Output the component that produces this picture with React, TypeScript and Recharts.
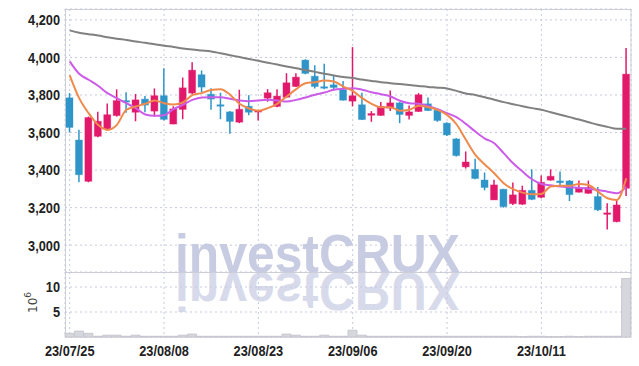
import React from 'react';
import { ComposedChart, Bar, Line, XAxis, YAxis, CartesianGrid } from 'recharts';

const dates = [
  '23/07/25','23/07/26','23/07/27','23/07/28','23/07/31','23/08/01','23/08/02','23/08/03','23/08/04','23/08/07',
  '23/08/08','23/08/09','23/08/10','23/08/11','23/08/14','23/08/16','23/08/17','23/08/18','23/08/21','23/08/22',
  '23/08/23','23/08/24','23/08/25','23/08/28','23/08/29','23/08/30','23/08/31','23/09/01','23/09/04','23/09/05',
  '23/09/06','23/09/07','23/09/08','23/09/11','23/09/12','23/09/13','23/09/14','23/09/15','23/09/18','23/09/19',
  '23/09/20','23/09/21','23/09/22','23/09/25','23/09/26','23/09/27','23/10/04','23/10/05','23/10/06','23/10/10',
  '23/10/11','23/10/12','23/10/13','23/10/16','23/10/17','23/10/18','23/10/19','23/10/20','23/10/23','23/10/24',
];

const opens = [
  3785,3560,3340,3580,3620,3690,3770,3708,3778,3714,
  3796,3645,3723,3810,3908,3804,3748,3710,3655,3740,
  3709,3783,3739,3788,3845,3986,3900,3844,3854,3828,
  3767,3748,3692,3691,3730,3758,3691,3712,3753,3719,
  3650,3566,3417,3404,3347,3241,3298,3221,3218,3292,
  3255,3346,3342,3342,3282,3276,3259,3164,3125,3303,
];
const highs = [
  3810,3615,3685,3710,3755,3830,3815,3805,3795,3835,
  3943,3740,3893,3975,3931,3836,3812,3715,3828,3799,
  3720,3831,3831,3916,3916,3990,3959,3966,3906,3875,
  4055,3812,3714,3762,3824,3762,3744,3810,3787,3724,
  3655,3570,3499,3460,3387,3348,3300,3334,3317,3404,
  3371,3404,3392,3347,3344,3344,3310,3223,3241,4050,
];
const lows = [
  3600,3335,3335,3575,3615,3685,3705,3660,3708,3685,
  3664,3644,3671,3805,3815,3721,3671,3593,3650,3692,
  3664,3764,3735,3785,3843,3910,3835,3831,3831,3770,
  3739,3667,3657,3689,3714,3650,3669,3710,3715,3657,
  3582,3472,3408,3351,3292,3240,3200,3214,3215,3240,
  3250,3344,3312,3235,3280,3274,3182,3084,3122,3262,
];
const closes = [
  3627,3375,3680,3660,3695,3770,3762,3774,3746,3796,
  3670,3726,3838,3932,3842,3778,3744,3659,3724,3708,
  3717,3812,3794,3865,3895,3915,3845,3840,3840,3772,
  3796,3669,3701,3739,3758,3696,3710,3801,3717,3664,
  3587,3477,3443,3355,3307,3321,3205,3268,3292,3244,
  3335,3367,3333,3269,3305,3307,3188,3172,3214,3911,
];

const ma5 = [
  3904,3783,3703,3641,3614,3641,3721,3739,3753,3771,
  3756,3749,3760,3799,3810,3827,3831,3801,3753,3728,
  3716,3730,3753,3792,3831,3863,3868,3877,3872,3845,
  3822,3783,3753,3735,3735,3716,3721,3742,3735,3721,
  3694,3644,3561,3481,3430,3383,3330,3298,3280,3271,
  3273,3312,3316,3316,3326,3321,3285,3250,3241,3356,
];
const ma20 = [
  3979,3913,3881,3849,3810,3783,3756,3730,3696,3689,
  3692,3724,3748,3774,3787,3788,3788,3780,3771,3767,
  3771,3774,3771,3765,3774,3787,3801,3813,3828,3833,
  3836,3828,3815,3804,3792,3769,3756,3753,3742,3724,
  3703,3682,3646,3605,3568,3543,3490,3436,3392,3351,
  3326,3319,3312,3308,3305,3301,3294,3285,3276,3312,
];
const maLong = [
  4144,4131,4124,4117,4108,4100,4093,4085,4078,4070,
  4062,4056,4048,4042,4037,4032,4022,4012,4002,3992,
  3982,3972,3962,3952,3942,3933,3923,3913,3904,3896,
  3890,3882,3875,3868,3863,3858,3853,3848,3843,3839,
  3834,3822,3808,3800,3788,3775,3762,3751,3740,3730,
  3721,3708,3695,3682,3669,3655,3641,3630,3620,3620,
];
// volume in millions of shares
const volumes = [
  0.74,1.18,0.74,0.15,0.37,0.37,0.15,0.37,0.15,0.15,
  0.15,0.15,0.37,0.59,0.15,0.15,0.15,0.15,0.15,0.15,
  0.15,0.15,0.15,0.59,0.37,0.15,0.15,0.37,0.15,0.15,
  1.35,0.37,0.15,0.15,0.15,0.15,0.15,0.15,0.15,0.15,
  0.15,0.15,0.15,0.15,0.15,0.15,0.15,0.15,0.05,0.15,
  0.15,0.05,0.05,0.15,0.05,0.15,0.15,0.15,0.15,11.7,
];

const tickDates = ['23/07/25','23/08/08','23/08/23','23/09/06','23/09/20','23/10/11'];
const priceTicks = [3000,3200,3400,3600,3800,4000,4200];
const volumeTicks = [5,10];

const UP = '#e2196b';
const DOWN = '#2f95c8';
const FONT = '"Liberation Sans", Arial, sans-serif';

const data = dates.map((d, i) => ({
  date: d,
  open: opens[i],
  high: highs[i],
  low: lows[i],
  close: closes[i],
  range: [lows[i], highs[i]],
  ma5: ma5[i],
  ma20: ma20[i],
  maLong: maLong[i],
  vol: volumes[i],
}));

const Candle = (props: any) => {
  let { x, y, width, height, payload } = props;
  if (height < 0) { y = y + height; height = -height; }
  const { open, close, high, low } = payload;
  const color = close >= open ? UP : DOWN;
  const k = height / (high - low);
  const yo = y + (high - open) * k;
  const yc = y + (high - close) * k;
  const top = Math.min(yo, yc);
  const bh = Math.max(1.5, Math.abs(yo - yc));
  const cx = x + width / 2;
  return (
    <g>
      <line x1={cx} x2={cx} y1={y} y2={y + height} stroke={color} strokeWidth={1.5} />
      <rect x={x} y={top} width={width} height={bh} fill={color} stroke={color} strokeOpacity={0.35} strokeWidth={1} />
    </g>
  );
};

const fmt = (v: any) => (typeof v === 'number' ? v.toLocaleString('en-US') : String(v));

const YTick = (props: any) => {
  const { x, y, payload } = props;
  return (
    <g transform={`translate(${x},${y}) scale(0.85,1)`}>
      <text x={0} y={0} dy="0.36em" textAnchor="end" fontFamily={FONT} fontSize={15} fontWeight={700} fill="#222">
        {fmt(payload.value)}
      </text>
    </g>
  );
};

const XTick = (props: any) => {
  const { x, y, payload } = props;
  return (
    <g transform={`translate(${x},${y}) scale(0.85,1)`}>
      <text x={0} y={0} dy="0.75em" textAnchor="middle" fontFamily={FONT} fontSize={15} fontWeight={700} fill="#222">
        {payload.value}
      </text>
    </g>
  );
};

export default function App() {
  return (
    <div style={{ position: 'absolute', left: 0, top: 0, width: 639, height: 366, background: '#fff', overflow: 'hidden' }}>
      <svg width={639} height={366} style={{ position: 'absolute', left: 0, top: 0 }}>
        <defs>
          <linearGradient id="refl" x1="0" y1="272" x2="0" y2="302" gradientUnits="userSpaceOnUse">
            <stop offset="0" stopColor="#d5d8ea" stopOpacity={0.95} />
            <stop offset="1" stopColor="#d5d8ea" stopOpacity={0.05} />
          </linearGradient>
        </defs>
        <text x={175} y={272} fontFamily='"Liberation Sans", Arial, sans-serif' fontWeight={700} fontSize={54}
          textLength={285} lengthAdjust="spacingAndGlyphs" fill="#c8cce2">investCRUX</text>
        <g transform="translate(0,545) scale(1,-1)">
          <text x={175} y={272} fontFamily='"Liberation Sans", Arial, sans-serif'
            fontWeight={700} fontSize={54} textLength={285} lengthAdjust="spacingAndGlyphs" fill="url(#refl)">investCRUX</text>
        </g>
        <rect x={65.5} y={9.5} width={565.5} height={327.5} fill="none" stroke="#cfd0d6" strokeWidth={1} />
        <line x1={65.5} x2={631} y1={272.5} y2={272.5} stroke="#cfd0d6" strokeWidth={1} />
        <text transform="translate(37,313) rotate(-90)" fontFamily='"DejaVu Sans", sans-serif' fontSize={12} fill="#444">
          10<tspan dy={-6} fontSize={9}>6</tspan>
        </text>
      </svg>

      <div style={{ position: 'absolute', left: 0, top: 0 }}>
        <ComposedChart width={639} height={280} data={data} margin={{ top: 9, right: 8, bottom: 8, left: 0 }}>
          <CartesianGrid stroke="#c6c9de" strokeDasharray="2 3" />
          <XAxis dataKey="date" ticks={tickDates} interval={0} hide />
          <YAxis domain={[2857, 4258]} ticks={priceTicks} width={65} axisLine={false} tickLine={false}
            tickSize={3} tickMargin={2} allowDataOverflow tick={<YTick />} />
          <Line dataKey="maLong" type="monotone" stroke="#808080" strokeWidth={2} dot={false} isAnimationActive={false} />
          <Line dataKey="ma20" type="monotone" stroke="#cc5ce8" strokeWidth={2} dot={false} isAnimationActive={false} />
          <Line dataKey="ma5" type="monotone" stroke="#ef8a4c" strokeWidth={2} dot={false} isAnimationActive={false} />
          <Bar dataKey="range" barSize={7} shape={Candle} isAnimationActive={false} />
        </ComposedChart>
      </div>

      <div style={{ position: 'absolute', left: 0, top: 272 }}>
        <ComposedChart width={639} height={94} data={data} margin={{ top: 0, right: 8, bottom: 0, left: 0 }} barCategoryGap={0}>
          <CartesianGrid stroke="#c6c9de" strokeDasharray="2 3" />
          <XAxis dataKey="date" ticks={tickDates} interval={0} height={29} axisLine={false} tickLine={false}
            tickSize={6} tick={<XTick />} />
          <YAxis domain={[0, 13]} ticks={volumeTicks} width={65} axisLine={false} tickLine={false}
            tickSize={3} tickMargin={2} tick={<YTick />} />
          <Bar dataKey="vol" barSize={9} fill="#d6d6dd" stroke="#c2c2ca" strokeWidth={0.8} isAnimationActive={false} />
        </ComposedChart>
      </div>
    </div>
  );
}
